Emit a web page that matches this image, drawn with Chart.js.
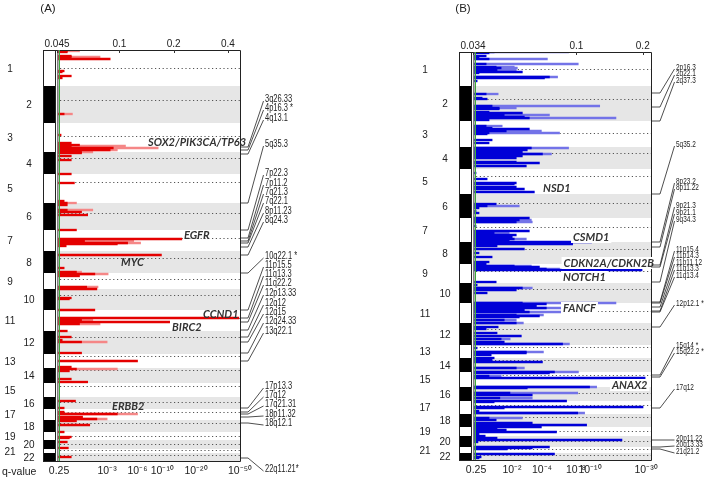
<!DOCTYPE html>
<html>
<head>
<meta charset="utf-8">
<script src="https://cdn.jsdelivr.net/npm/chart.js@4.4.1/dist/chart.umd.min.js"></script>
<style>
  html, body { margin:0; padding:0; background:#ffffff; }
  #wrap { position:relative; width:717px; height:479px; overflow:hidden; background:#fff; }
  canvas { position:absolute; top:0; }
  #chartA { left:0; }
  #chartB { left:358px; }
</style>
</head>
<body>
<div id="wrap">
  <canvas id="chartA" width="358" height="479"></canvas>
  <canvas id="chartB" width="359" height="479"></canvas>
</div>
<script>
// ---------------- DATA ----------------
const chromosomes = ['1','2','3','4','5','6','7','8','9','10','11','12','13','14','15','16','17','18','19','20','21','22'];
// centromere position as fraction of chromosome length
const centromereFrac = [0.50,0.38,0.46,0.26,0.27,0.36,0.38,0.31,0.35,0.30,0.40,0.27,0.16,0.16,0.19,0.41,0.30,0.22,0.45,0.44,0.27,0.29];
// chromosome lengths (genome units) as drawn in each panel
const chrLenA = [36,37,29,22,29,27,21,22,16,21,21,23,14,15,14,12,11,12,8,9,4,8];
const chrLenB = [34,35,26,22,25,24,24,22,19,20,20,22,13,14,15,14,13,13,9,11,6,7];

// axes: G-score (top) and q-value (bottom)
const gTicksA = [0.045, 0.1, 0.2, 0.4];
const gTickLabelsA = ['0.045','0.1','0.2','0.4'];
const qTickAtA = [0.0462, 0.0854, 0.126, 0.173, 0.266, 0.467];
const qTickLabelsA = ['0.25','10\u207B\u00B3','10\u207B\u2076','10\u207B\u00B9\u2070','10\u207B\u00B2\u2070','10\u207B\u2075\u2070'];
const gTicksB = [0.034, 0.1, 0.2];
const gTickLabelsB = ['0.034','0.1','0.2'];
const qTickAtB = [0.0351, 0.0511, 0.0699, 0.0996, 0.1153, 0.207];
const qTickLabelsB = ['0.25','10\u207B\u00B2','10\u207B\u2074','10\u207B\u2078','10\u207B\u00B9\u2070','10\u207B\u00B3\u2070'];

// (A) amplifications: genome position and G-score
const ampPosA = [
  1,2,6,7,9,21,22,26,28,64,
  85,93,95,96,98,100,102,103,106,110,
  124,133,151,153,155,160,162,165,180,189,
  191,193,194,196,205,218,222,224,226,237,
  239,248,249,260,268,270,272,274,281,287,
  290,292,303,311,317,319,321,329,332,351,
  358,362,364,367,369,371,375,382,387,388,
  392,398,407];
const ampDarkA = [
  .0513,.0513,.054,.054,.0888,.0493,.0481,.054,.0481,.0493,
  .0474,.054,.060,.054,.0924,.0888,.0616,.0616,.054,.054,
  .054,.0562,.0493,.0513,.0513,.0513,.0616,.0666,.0577,.222,
  .064,.111,.0973,.0506,.171,.0493,.0577,.073,.060,.0658,
  .0749,.054,.0527,.073,.46,.0616,.19,.060,.0513,.054,
  .0481,.0616,.0616,.126,.054,.0577,.0527,.054,.0666,.057,
  .0493,.0493,.0973,.0624,.0749,.0577,.0684,.0493,.054,.0527,
  .0513,.052,.054];
const ampLightPosA = [1,7,64,96,98,100,102,153,160,191,193,222,224,237,270,274,292,319,364,369];
const ampLightA = [.060,.078,.0548,.108,.164,.0973,.0711,.0577,.0711,.12,.131,.0616,.0865,.076,.0711,.078,.0854,.0973,.126,.0854];

// (B) deletions: genome position and G-score
const delPosB = [
  0,1,4,5,7,12,15,16,18,20,
  21,25,26,29,42,46,47,54,56,57,
  60,61,63,65,66,68,74,76,77,79,
  81,82,88,91,96,98,100,102,104,106,
  110,111,114,121,127,131,132,135,137,140,
  152,154,156,159,161,166,168,170,174,179,
  181,183,185,187,189,190,192,194,197,201,
  205,210,212,214,215,217,218,230,233,236,
  238,241,251,252,254,256,258,260,263,264,
  265,268,271,275,277,281,284,287,290,292,
  296,300,301,303,306,308,310,316,320,321,
  324,326,335,336,341,343,346,349,350,355,
  356,359,361,366,368,371,373,375,376,378,
  380,382,384,386,388,390,395,396,397,402,
  405,406];
const delDarkB = [
  .0424,.0402,.039,.0362,.0402,.039,.0433,.0456,.0437,.0569,
  .0362,.0755,.0717,.0355,.039,.0374,.0394,.0415,.0447,.0447,
  .0402,.0569,.0471,.0581,.0612,.0402,.039,.0415,.0612,.0481,
  .0402,.0394,.0415,.0402,.0625,.0599,.0569,.0702,.0569,.0534,
  .0534,.068,.0593,.0351,.0394,.0534,.0523,.0534,.0581,.0645,
  .0433,.0394,.0362,.0351,.0362,.0612,.0551,.0534,.0351,.0612,
  .0424,.0534,.0512,.0523,.0496,.1172,.0962,.0437,.0581,.0362,
  .0415,.0402,.039,.0523,.068,.0731,.1985,.0433,.0355,.0569,
  .0534,.0394,.0569,.0731,.0659,.0731,.0581,.0612,.0534,.068,
  .0551,.0471,.0534,.0442,.039,.0437,.0563,.0456,.0471,.0866,
  .0355,.0593,.0593,.0411,.0424,.0415,.0702,.0534,.0796,.0755,
  .0402,.205,.1148,.0599,.05,.0631,.045,.0903,.0424,.2006,
  .0471,.0362,.1014,.0402,.0433,.0631,.1113,.0694,.0437,.0481,
  .0813,.0362,.0386,.0437,.161,.0358,.0755,.0631,.0486,.0796,
  .037,.0362];
const delLightPosB = [
  0,7,12,15,16,18,25,42,54,56,
  63,66,74,79,81,96,102,154,168,170,
  181,187,214,217,236,251,256,260,263,268,
  271,287,292,300,316,320,324,335,341,346,
  361,366];
const delLightB = [
  .0922,.0739,.102,.0523,.054,.0534,.0822,.0442,.1276,.0534,
  .0755,.1512,.0461,.0694,.0839,.0922,.0771,.0551,.0625,.0631,
  .0496,.0593,.0625,.0839,.0631,.1512,.0962,.1186,.0709,.0534,
  .0575,.0501,.093,.0709,.0581,.1022,.0456,.1236,.1014,.0631,
  .109,.0569];

// gene annotations (genome position, G-score where text starts)
const geneNamesA = ['SOX2/PIK3CA/TP63','EGFR','MYC','CCND1','BIRC2','ERBB2'];
const geneAtA = [92,185,212,264,277,356];
const geneGA = [0.144,0.228,0.102,0.291,0.196,0.0909];
const geneNamesB = ['NSD1','CSMD1','CDKN2A/CDKN2B','NOTCH1','FANCF','ANAX2'];
const geneAtB = [136,185,211,225,256,333];
const geneGB = [0.0706,0.0966,0.0875,0.087,0.087,0.145];

// significant peak cytobands (peak genome position, label slot position)
const peakNamesA = ['3q26.33','4p16.3 *','4q13.1','5q35.3','7p22.3','7p11.2','7q21.3','7q22.1','8p11.23','8q24.3','10q22.1 *','11p15.5','11q13.3','11q22.2','12p13.33','12q12','12q15','12q24.33','13q22.1','17p13.3','17q12','17q21.31','18p11.32','18q12.1','22q11.21*'];
const peakAtA = [97,100,104,153,180,188,191,193,197,205,223,260,268,272,280,287,292,303,311,358,362,364,367,373,408];
const peakSlotA = [49,58,68,94,123,133,142,151,161,170,206,215,224,233,243,253,262,271,281,336,345,354,364,373,419];
const peakNamesB = ['2p16.3','2q22.1','2q37.3','5q35.2','8p23.2','8p11.22','9p21.3','9p21.1','9q34.3','11p15.4','11p14.3','11p11.12','11q13.3','11q13.4','12p12.1 *','15q14 *','15q22.2 *','17q12','20p11.22','20q13.33','21q21.2'];
const peakAtB = [41,55,69,142,190,195,213,215,230,250,251,255,259,260,275,323,325,356,388,395,397];
const peakSlotB = [15,21,28,92,129,135,153,160,167,197,203,210,216,223,251,293,299,335,386,392,399];

// ---------------- DRAWING ----------------
const FONT = '"Liberation Sans", Arial, sans-serif';

function panelPlugin(p) {
  return {
    id: 'panel' + p.id,
    beforeDatasetsDraw(chart) {
      const {ctx, chartArea: a, scales: {y}} = chart;
      ctx.save();
      let s = 0;
      p.lens.forEach((len, i) => {
        const y0 = y.getPixelForValue(s), y1 = y.getPixelForValue(s + len);
        if (i % 2 === 1) { ctx.fillStyle = '#e6e6e6'; ctx.fillRect(a.left, y0, a.right - a.left, y1 - y0); }
        s += len;
      });
      s = 0;
      ctx.strokeStyle = '#555'; ctx.lineWidth = 1; ctx.setLineDash([1.2, 2.6]);
      p.lens.forEach((len, i) => {
        const yc = Math.round(y.getPixelForValue(s + centromereFrac[i] * len)) + 0.5;
        ctx.beginPath(); ctx.moveTo(a.left + 3, yc); ctx.lineTo(a.right, yc); ctx.stroke();
        s += len;
      });
      ctx.restore();
    },
    afterDatasetsDraw(chart) {
      const {ctx, chartArea: a, scales: {x, y}} = chart;
      const sl = a.left - p.stripGap - p.stripW;
      ctx.save();
      // chromosome strip + numbers
      let s = 0;
      ctx.font = '10px ' + FONT; ctx.textAlign = 'center'; ctx.textBaseline = 'middle';
      p.lens.forEach((len, i) => {
        const y0 = y.getPixelForValue(s), y1 = y.getPixelForValue(s + len);
        ctx.fillStyle = i % 2 === 1 ? '#000' : '#fff';
        ctx.fillRect(sl, y0, p.stripW, y1 - y0);
        ctx.fillStyle = '#222';
        const cx = i % 2 === 0 ? sl - p.oddOff : sl - p.evenOff;
        ctx.fillText(chromosomes[i], cx, (y0 + y1) / 2 + 1);
        s += len;
      });
      ctx.strokeStyle = '#222'; ctx.lineWidth = 1;
      ctx.strokeRect(sl + 0.5, a.top + 0.5, p.stripW, a.bottom - a.top);
      // frame
      ctx.beginPath();
      ctx.moveTo(sl, a.top + 0.5); ctx.lineTo(a.right + 0.5, a.top + 0.5);
      ctx.lineTo(a.right + 0.5, a.bottom + 0.5); ctx.lineTo(sl, a.bottom + 0.5);
      ctx.stroke();
      // left plot border and threshold line
      ctx.strokeStyle = '#808080'; ctx.lineWidth = 1.6;
      ctx.beginPath(); ctx.moveTo(a.left + 0.8, a.top); ctx.lineTo(a.left + 0.8, a.bottom); ctx.stroke();
      ctx.strokeStyle = '#3caa3c'; ctx.lineWidth = 1;
      ctx.beginPath(); ctx.moveTo(a.left + 2.5, a.top); ctx.lineTo(a.left + 2.5, a.bottom); ctx.stroke();
      // top ticks
      ctx.strokeStyle = '#333'; ctx.lineWidth = 1;
      p.gTicks.forEach(v => {
        const px = Math.round(x.getPixelForValue(v)) + 0.5;
        ctx.beginPath(); ctx.moveTo(px, a.top); ctx.lineTo(px, a.top + 3); ctx.stroke();
      });
      // gene labels
      ctx.font = 'italic bold 11px Lato, "Liberation Sans", Arial, sans-serif';
      ctx.textAlign = 'left'; ctx.textBaseline = 'middle';
      p.geneNames.forEach((g, i) => {
        const gx = x.getPixelForValue(p.geneG[i]);
        const gy = y.getPixelForValue(p.geneAt[i]);
        if (p.geneBox) {
          const w = ctx.measureText(g).width;
          ctx.fillStyle = '#fff'; ctx.fillRect(gx - 2, gy - 6, w + 4, 12);
        }
        ctx.fillStyle = '#333';
        ctx.fillText(g, gx, gy);
      });
      // peak labels with leader lines
      ctx.strokeStyle = '#222'; ctx.lineWidth = 0.8;
      ctx.font = p.labelFont + 'px ' + FONT; ctx.fillStyle = '#222';
      p.peakNames.forEach((nm, i) => {
        const py = y.getPixelForValue(p.peakAt[i]);
        const ly = y.getPixelForValue(p.peakSlot[i]);
        const lx = a.right + p.labelGap;
        ctx.beginPath();
        ctx.moveTo(a.right, py); ctx.lineTo(a.right + p.stub, py); ctx.lineTo(lx - 1.5, ly + 2);
        ctx.stroke();
        ctx.save();
        ctx.translate(lx, ly); ctx.scale(p.labelScale, 1);
        ctx.textAlign = 'left'; ctx.textBaseline = 'middle';
        ctx.fillText(nm, 0, 0);
        ctx.restore();
      });
      // panel title
      ctx.fillStyle = '#222'; ctx.font = '11.5px ' + FONT; ctx.textAlign = 'center'; ctx.textBaseline = 'middle';
      ctx.fillText(p.title, p.titleX, 9);
      if (p.showQ) {
        ctx.font = '10.5px ' + FONT; ctx.textAlign = 'left';
        ctx.fillText('q-value', 2, 472);
      }
      ctx.restore();
    }
  };
}

function buildChart(canvasId, p) {
  const total = p.lens.reduce((u, v) => u + v, 0);
  const dark = p.darkPos.map((pos, i) => ({x: p.darkVal[i], y: pos}));
  const light = p.lightPos.map((pos, i) => ({x: p.lightVal[i], y: pos}));
  const tickFont = {size: 10, family: FONT};
  return new Chart(document.getElementById(canvasId), {
    type: 'bar',
    data: {
      datasets: [
        {label: 'q-value', data: dark, backgroundColor: p.darkColor, barThickness: 1.7, grouped: false, borderWidth: 0, xAxisID: 'x', yAxisID: 'y'},
        {label: 'G-score', data: light, backgroundColor: p.lightColor, barThickness: 1.7, grouped: false, borderWidth: 0, xAxisID: 'x', yAxisID: 'y'}
      ]
    },
    options: {
      indexAxis: 'y', responsive: false, animation: false, events: [],
      layout: {padding: p.padding},
      plugins: {legend: {display: false}, tooltip: {enabled: false}},
      scales: {
        y: {type: 'linear', min: 0, max: total, reverse: true, display: false, offset: false},
        x: {
          type: 'logarithmic', position: 'top', min: p.gMin, max: p.gMax, stacked: false,
          grid: {display: false, drawTicks: false}, border: {display: false},
          ticks: {autoSkip: false, maxRotation: 0, minRotation: 0, padding: 0, color: '#222', font: tickFont,
                  callback: (v, i) => p.gTickLabels[i]},
          afterBuildTicks: s => { s.ticks = p.gTicks.map(v => ({value: v})); },
          afterFit: s => { s.height = 14; }
        },
        x2: {
          type: 'logarithmic', position: 'bottom', min: p.gMin, max: p.gMax,
          grid: {display: false, drawTicks: false}, border: {display: false},
          ticks: {autoSkip: false, maxRotation: 0, minRotation: 0, padding: 4, color: '#222', font: {size: 10.5, family: FONT},
                  callback: (v, i) => p.qTickLabels[i]},
          afterBuildTicks: s => { s.ticks = p.qTickAt.map(v => ({value: v})); },
          afterFit: s => { s.height = 16; }
        }
      }
    },
    plugins: [panelPlugin(p)]
  });
}

buildChart('chartA', {
  id: 'A', title: '(A)', titleX: 48, showQ: true, lens: chrLenA,
  darkPos: ampPosA, darkVal: ampDarkA, lightPos: ampLightPosA, lightVal: ampLightA,
  darkColor: 'rgb(228,0,0)', lightColor: 'rgb(245,135,135)',
  gMin: 0.045, gMax: 0.467, gTicks: gTicksA, gTickLabels: gTickLabelsA, qTickAt: qTickAtA, qTickLabels: qTickLabelsA,
  padding: {left: 57, right: 118, top: 36, bottom: 2},
  stripW: 12, stripGap: 2, oddOff: 33, evenOff: 14,
  geneNames: geneNamesA, geneAt: geneAtA, geneG: geneGA, geneBox: false,
  peakNames: peakNamesA, peakAt: peakAtA, peakSlot: peakSlotA,
  stub: 8, labelGap: 25, labelFont: 10, labelScale: 0.75
});

buildChart('chartB', {
  id: 'B', title: '(B)', titleX: 105, showQ: false, lens: chrLenB,
  darkPos: delPosB, darkVal: delDarkB, lightPos: delLightPosB, lightVal: delLightB,
  darkColor: 'rgb(0,0,215)', lightColor: 'rgb(115,115,232)',
  gMin: 0.034, gMax: 0.218, gTicks: gTicksB, gTickLabels: gTickLabelsB, qTickAt: qTickAtB, qTickLabels: qTickLabelsB,
  padding: {left: 115, right: 66, top: 38, bottom: 3},
  stripW: 12, stripGap: 2, oddOff: 34, evenOff: 14,
  geneNames: geneNamesB, geneAt: geneAtB, geneG: geneGB, geneBox: true,
  peakNames: peakNamesB, peakAt: peakAtB, peakSlot: peakSlotB,
  stub: 9, labelGap: 25, labelFont: 9.5, labelScale: 0.68
});
</script>
</body>
</html>
